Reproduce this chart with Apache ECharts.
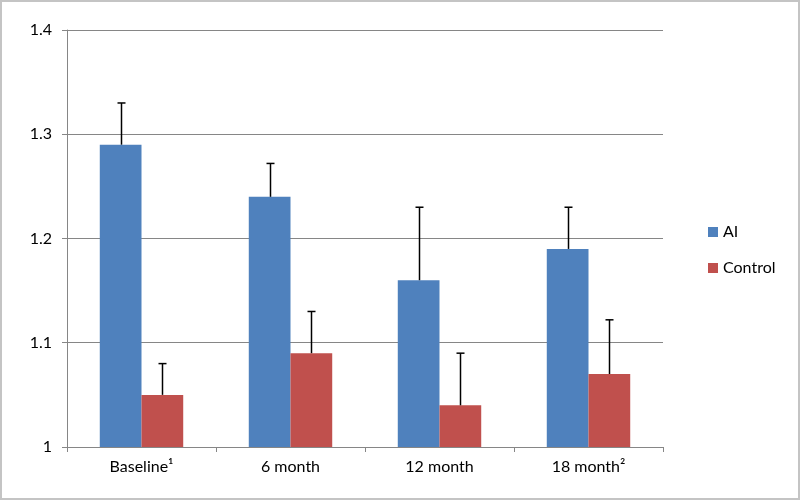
<!DOCTYPE html>
<html><head><meta charset="utf-8">
<script src="https://cdn.jsdelivr.net/npm/echarts@6/dist/echarts.min.js"></script>
<style>html,body{margin:0;padding:0;background:#fff}#c{width:800px;height:500px}</style>
</head><body><div id="c"></div>
<script>
var categories = ['Baseline\u00B9', '6 month', '12 month', '18 month\u00B2'];
var seriesNames = ['AI', 'Control'];
var aiValues = [1.29, 1.24, 1.16, 1.19];
var aiErrors = [0.04, 0.032, 0.07, 0.04];
var controlValues = [1.05, 1.09, 1.04, 1.07];
var controlErrors = [0.03, 0.04, 0.05, 0.052];
var yTicks = [1, 1.1, 1.2, 1.3, 1.4];

var chart = echarts.init(document.getElementById('c'), null, {renderer: 'canvas'});
var font = 'Lato, "Open Sans", sans-serif';
var gapPct = 0.44;

function errSeries(values, errors, side, name) {
  return {
    type: 'custom',
    name: name + ' err',
    z: 5,
    silent: true,
    data: values.map(function (v, i) { return [i, v, v + errors[i]]; }),
    renderItem: function (params, api) {
      var band = api.size([1, 0])[0];
      var bw = band * (1 - gapPct) / 2;
      var base = api.coord([api.value(0), api.value(1)]);
      var top = api.coord([api.value(0), api.value(2)]);
      var x = Math.round(base[0] + side * bw / 2) + 0.5;
      var st = {stroke: '#000', lineWidth: 1.5};
      return {type: 'group', children: [
        {type: 'line', shape: {x1: x, y1: base[1], x2: x, y2: top[1]}, style: st},
        {type: 'line', shape: {x1: x - 4, y1: top[1], x2: x + 4, y2: top[1]}, style: st}
      ]};
    }
  };
}

chart.setOption({
  animation: false,
  textStyle: {fontFamily: font},
  graphic: [{type: 'rect', silent: true, z: 100,
    shape: {x: 1, y: 1, width: 798, height: 498},
    style: {fill: 'none', stroke: '#c4c4c4', lineWidth: 2}}],
  grid: {left: 67, right: 137, top: 30, bottom: 53},
  legend: {
    orient: 'vertical', left: 703, top: 219, itemWidth: 10, itemHeight: 10, itemGap: 20,
    icon: 'rect', data: seriesNames,
    textStyle: {fontFamily: font, fontSize: 16, color: '#000'}
  },
  xAxis: {
    type: 'category', data: categories,
    axisLine: {lineStyle: {color: '#868686'}},
    axisTick: {show: true, length: 5, lineStyle: {color: '#868686'}},
    axisLabel: {fontFamily: font, fontSize: 16, color: '#000', margin: 12}
  },
  yAxis: {
    type: 'value', min: yTicks[0], max: yTicks[yTicks.length - 1], interval: 0.1,
    axisLine: {show: true, lineStyle: {color: '#868686'}},
    axisTick: {show: true, length: 5, lineStyle: {color: '#868686'}},
    splitLine: {lineStyle: {color: '#868686'}},
    axisLabel: {fontFamily: font, fontSize: 16, color: '#000', margin: 15,
      formatter: function (v) { return String(Math.round(v * 10) / 10); }}
  },
  series: [
    {name: 'AI', type: 'bar', data: aiValues, barGap: '0%', barCategoryGap: '44%',
      itemStyle: {color: '#4f81bd'}},
    {name: 'Control', type: 'bar', data: controlValues, barGap: '0%', barCategoryGap: '44%',
      itemStyle: {color: '#c0504d'}},
    errSeries(aiValues, aiErrors, -1, 'AI'),
    errSeries(controlValues, controlErrors, 1, 'Control')
  ]
});
</script></body></html>
